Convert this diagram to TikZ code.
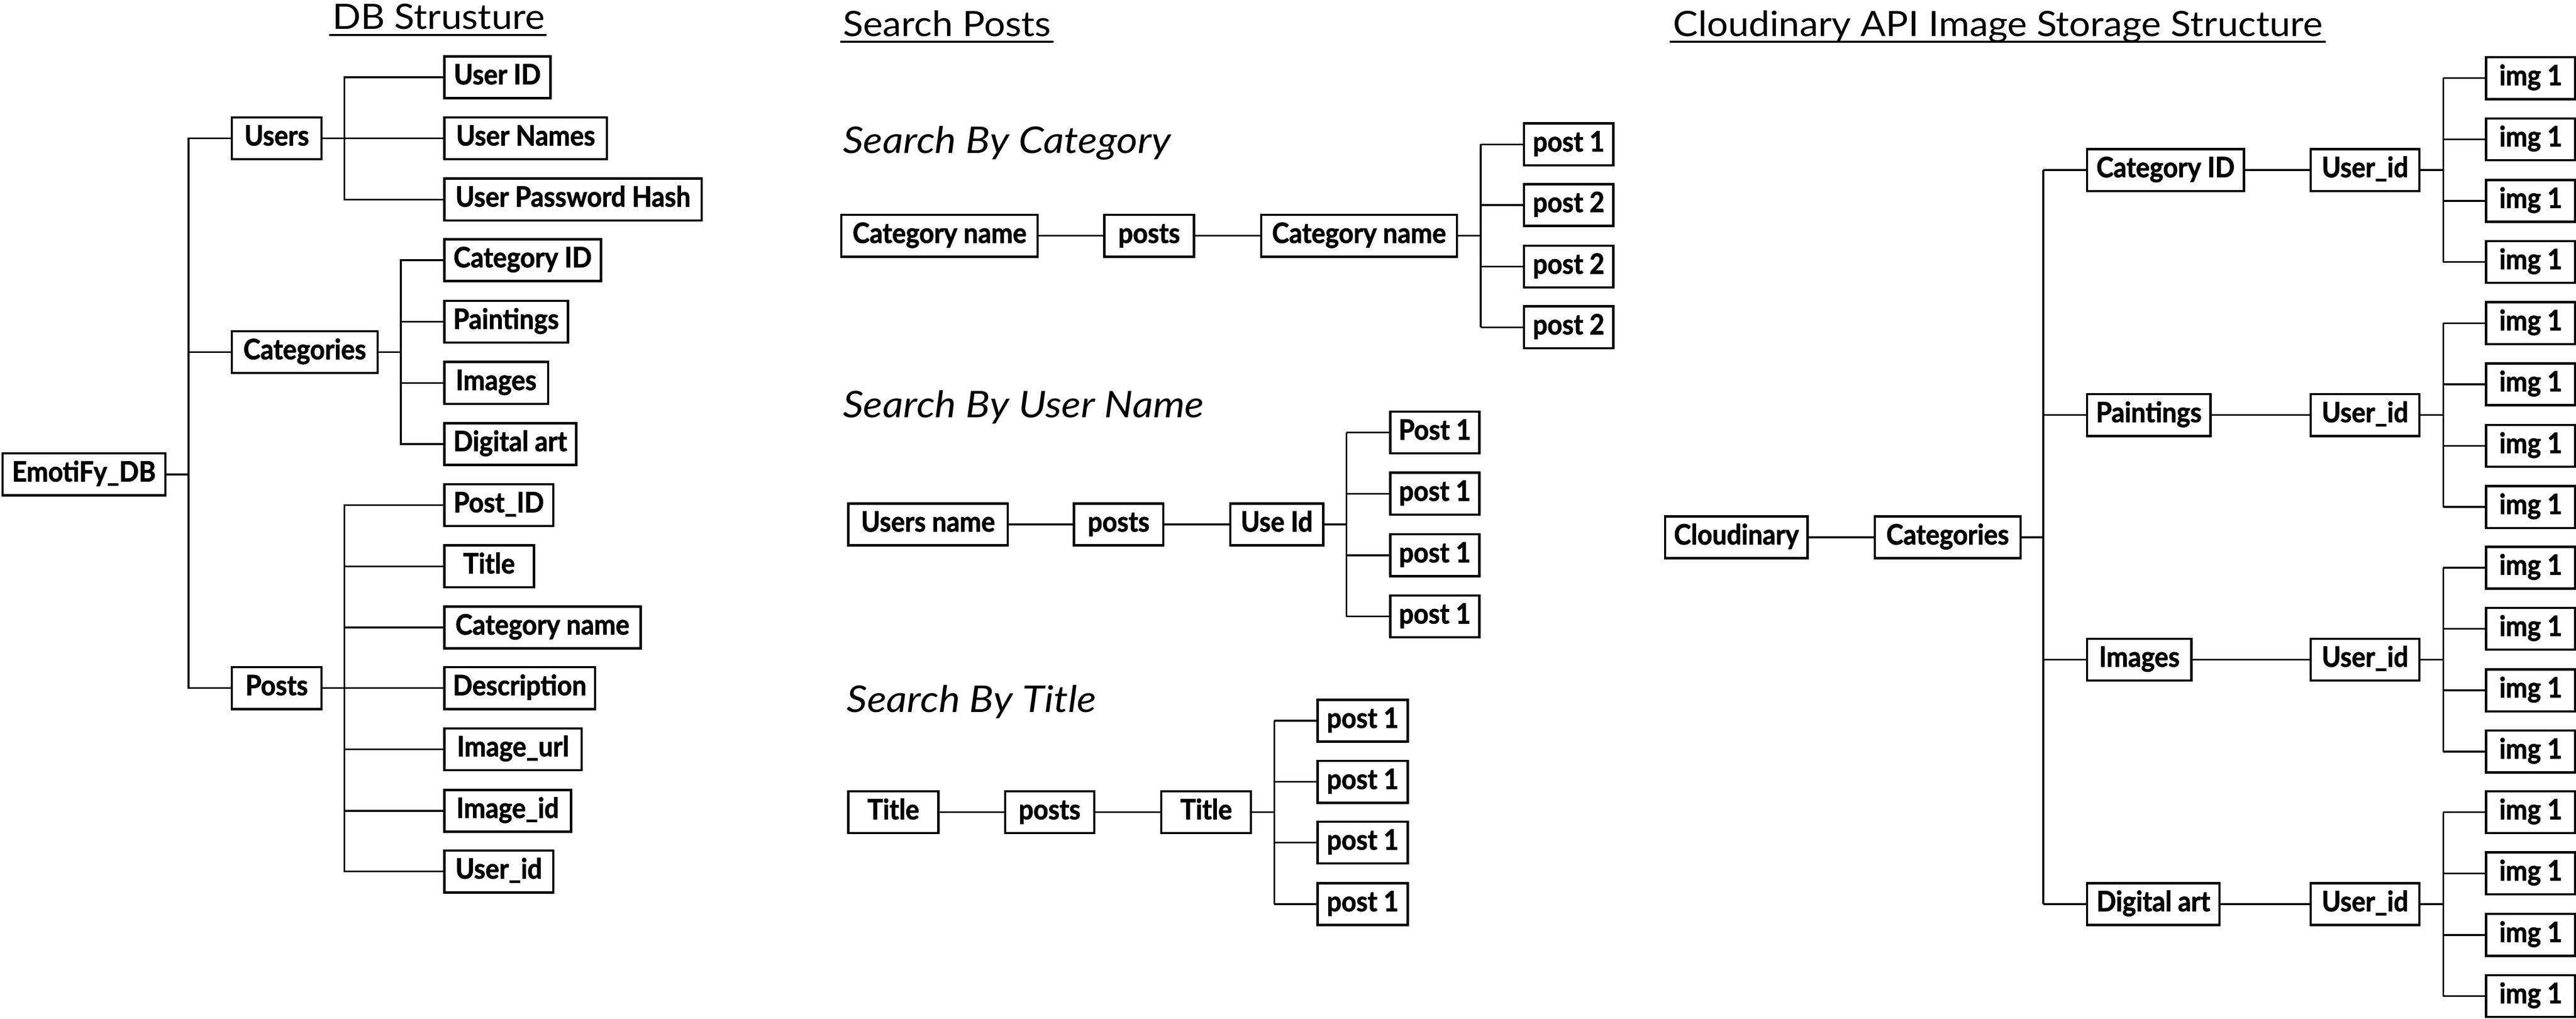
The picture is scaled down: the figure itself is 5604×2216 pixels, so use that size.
\documentclass[tikz,border=0pt]{standalone}
\usepackage{fontspec}
\setmainfont{Lato}
\newfontfamily\boxfont{Lato}[FakeStretch=0.92, BoldFeatures={FakeBold=1.6}]
\newfontfamily\ttlfont{Lato}[FakeStretch=1.07]
\newfontfamily\subfont{Lato}[FakeStretch=1.1]
\begin{document}
\begin{tikzpicture}[x=0.1pt,y=-0.1pt,
  box/.style={draw, line width=0.5pt, inner sep=0pt, minimum height=9.1pt, anchor=west,
    text height=4.3pt, text depth=1.2pt, font=\boxfont\bfseries\fontsize{6.1}{6.5}\selectfont},
  con/.style={line width=0.38pt},
  ttl/.style={inner sep=0pt, anchor=base west, font=\ttlfont\fontsize{7.6}{8}\selectfont},
  sub/.style={inner sep=0pt, anchor=base west, font=\subfont\itshape\fontsize{8.0}{8.5}\selectfont},
  uline/.style={line width=0.45pt}]
\useasboundingbox (0,0) rectangle (5604,2216);

% ---------------- DB Structure ----------------
\node[ttl] (tdb) at (721,63) {DB Strusture};
\draw[uline] ([xshift=-0.5pt,yshift=-1.3pt]tdb.base west) -- ([xshift=0.2pt,yshift=-1.3pt]tdb.base east);

\node[box, minimum width=35.4pt] (db) at (3,1032) {EmotiFy\_DB};
\node[box, minimum width=19.5pt] (users) at (502,301) {Users};
\node[box, minimum width=31.7pt] (cats) at (502,766) {Categories};
\node[box, minimum width=19.5pt] (posts) at (502,1497) {Posts};

\coordinate (tr) at (410,1032);
\draw[con] (db.east) -- (tr);
\draw[con] (users.west) -- (users.west -| tr) -- (posts.west -| tr) -- (posts.west);
\draw[con] (cats.west) -- (cats.west -| tr);

% users children
\node[box, minimum width=23.1pt] (uid) at (964,168) {User ID};
\node[box, minimum width=35.4pt] (unames) at (964,301) {User Names};
\node[box, minimum width=56.0pt] (uph) at (964,434) {User Password Hash};
\coordinate (bu) at (749,301);
\draw[con] (users.east) -- (unames.west);
\draw[con] (uid.west) -- (uid.west -| bu) -- (uph.west -| bu) -- (uph.west);

% categories children
\node[box, minimum width=34.1pt] (catid) at (964,566) {Category ID};
\node[box, minimum width=26.9pt] (paint) at (964,700) {Paintings};
\node[box, minimum width=22.6pt] (images) at (964,833) {Images};
\node[box, minimum width=28.7pt] (digart) at (964,966) {Digital art};
\coordinate (bc) at (872,766);
\draw[con] (cats.east) -- (bc);
\draw[con] (catid.west) -- (catid.west -| bc) -- (digart.west -| bc) -- (digart.west);
\draw[con] (paint.west) -- (paint.west -| bc);
\draw[con] (images.west) -- (images.west -| bc);

% posts children
\node[box, minimum width=23.7pt] (postid) at (964,1099) {Post\_ID};
\node[box, minimum width=19.5pt] (ptitle) at (964,1232) {Title};
\node[box, minimum width=42.7pt] (pcat) at (964,1365) {Category name};
\node[box, minimum width=32.8pt] (desc) at (964,1497) {Description};
\node[box, minimum width=29.9pt] (imgurl) at (964,1630) {Image\_url};
\node[box, minimum width=27.6pt] (imgid) at (964,1764) {Image\_id};
\node[box, minimum width=23.7pt] (puser) at (964,1896) {User\_id};
\coordinate (bp) at (749,1497);
\draw[con] (posts.east) -- (desc.west);
\draw[con] (postid.west) -- (postid.west -| bp) -- (puser.west -| bp) -- (puser.west);
\draw[con] (ptitle.west) -- (ptitle.west -| bp);
\draw[con] (pcat.west) -- (pcat.west -| bp);
\draw[con] (imgurl.west) -- (imgurl.west -| bp);
\draw[con] (imgid.west) -- (imgid.west -| bp);

% ---------------- Search Posts ----------------
\node[ttl] (tsp) at (1832,79) {Search Posts};
\draw[uline] ([xshift=-0.4pt,yshift=-1.2pt]tsp.base west) -- ([xshift=0.3pt,yshift=-1.2pt]tsp.base east);

\node[sub] (s1) at (1832,333) {Search By Category};
\node[box, minimum width=42.7pt] (cn1) at (1828,513) {Category name};
\node[box, minimum width=19.5pt] (sp1) at (2400,513) {posts};
\node[box, minimum width=42.6pt] (cn2) at (2741,513) {Category name};
\draw[con] (cn1) -- (sp1);
\draw[con] (sp1) -- (cn2);
\coordinate (bs1) at (3221,513);
\draw[con] (cn2.east) -- (bs1);
\foreach \j/\yy/\lab in {1/314/post 1, 2/446/post 2, 3/580/post 2, 4/712/post 2} {
  \node[box, minimum width=19.4pt] (a\j) at (3313,\yy) {\lab};
  \draw[con] (a\j.west) -- (a\j.west -| bs1);
}
\draw[con] (a1.west -| bs1) -- (a4.west -| bs1);

\node[sub] (s2) at (1832,908) {Search By User Name};
\node[box, minimum width=34.7pt] (un) at (1843,1141) {Users name};
\node[box, minimum width=19.4pt] (sp2) at (2334,1141) {posts};
\node[box, minimum width=20.2pt] (useid) at (2674,1141) {Use Id};
\draw[con] (un) -- (sp2);
\draw[con] (sp2) -- (useid);
\coordinate (bs2) at (2929,1141);
\draw[con] (useid.east) -- (bs2);
\foreach \j/\yy/\lab in {1/941/Post 1, 2/1074/post 1, 3/1208/post 1, 4/1341/post 1} {
  \node[box, minimum width=19.4pt] (b\j) at (3022,\yy) {\lab};
  \draw[con] (b\j.west) -- (b\j.west -| bs2);
}
\draw[con] (b1.west -| bs2) -- (b4.west -| bs2);

\node[sub] (s3) at (1840,1550) {Search By Title};
\node[box, minimum width=19.6pt] (st1) at (1843,1767) {Title};
\node[box, minimum width=19.4pt] (sp3) at (2184,1767) {posts};
\node[box, minimum width=19.5pt] (st2) at (2524,1767) {Title};
\draw[con] (st1) -- (sp3);
\draw[con] (sp3) -- (st2);
\coordinate (bs3) at (2772,1767);
\draw[con] (st2.east) -- (bs3);
\foreach \j/\yy in {1/1568, 2/1701, 3/1833, 4/1967} {
  \node[box, minimum width=19.6pt] (c\j) at (2864,\yy) {post 1};
  \draw[con] (c\j.west) -- (c\j.west -| bs3);
}
\draw[con] (c1.west -| bs3) -- (c4.west -| bs3);

% ---------------- Cloudinary ----------------
\node[ttl] (tcl) at (3638,79) {Cloudinary API Image Storage Structure};
\draw[uline] ([xshift=-0.6pt,yshift=-1.2pt]tcl.base west) -- ([xshift=0.4pt,yshift=-1.2pt]tcl.base east);

\node[box, minimum width=31.0pt] (cl) at (3620,1169) {Cloudinary};
\node[box, minimum width=31.7pt] (cat3) at (4076,1169) {Categories};
\draw[con] (cl) -- (cat3);
\coordinate (cb) at (4445,1169);
\draw[con] (cat3.east) -- (cb);

\foreach \k/\yy/\lab/\w in {1/370/Category ID/34.1, 2/903/Paintings/26.8, 3/1435/Images/22.7, 4/1967/Digital art/28.8} {
  \node[box, minimum width=\w pt] (k\k) at (4538,\yy) {\lab};
  \node[box, minimum width=23.7pt] (u\k) at (5024,\yy) {User\_id};
  \draw[con] (k\k) -- (u\k);
  \draw[con] (k\k.west) -- (k\k.west -| cb);
  \coordinate (ib\k) at (5315,\yy);
  \draw[con] (u\k.east) -- (ib\k);
  \foreach \j/\dy in {1/-200, 2/-67, 3/67, 4/200} {
    \node[box, minimum width=19.4pt] (i\k\j) at (5406,\yy+\dy) {img 1};
    \draw[con] (i\k\j.west) -- (i\k\j.west -| ib\k);
  }
  \draw[con] (i\k1.west -| ib\k) -- (i\k4.west -| ib\k);
}
\draw[con] (k1.west -| cb) -- (k4.west -| cb);
\end{tikzpicture}
\end{document}
